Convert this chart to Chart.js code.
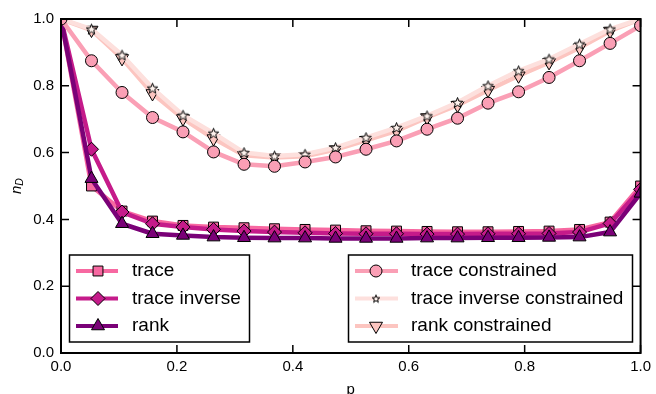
<!DOCTYPE html>
<html>
<head>
<meta charset="utf-8">
<script src="https://cdn.jsdelivr.net/npm/chart.js@4.4.1/dist/chart.umd.min.js"></script>
<style>
  html, body { margin: 0; padding: 0; background: #fff; }
  #wrap { width: 656px; height: 394px; position: relative; }
</style>
</head>
<body>
<div id="wrap"><canvas id="chart"></canvas></div>
<script>
// p values (x axis)
const pValues = [0, 0.0526, 0.1053, 0.1579, 0.2105, 0.2632, 0.3158, 0.3684, 0.4211, 0.4737,
                 0.5263, 0.5789, 0.6316, 0.6842, 0.7368, 0.7895, 0.8421, 0.8947, 0.9474, 1.0];

// n_D series
const traceVals    = [1.0, 0.500, 0.425, 0.395, 0.382, 0.377, 0.375, 0.372, 0.370, 0.368,
                      0.366, 0.365, 0.364, 0.363, 0.363, 0.364, 0.365, 0.370, 0.392, 0.500];
const traceInvVals = [1.0, 0.610, 0.422, 0.387, 0.377, 0.370, 0.365, 0.362, 0.360, 0.358,
                      0.357, 0.357, 0.356, 0.356, 0.357, 0.357, 0.358, 0.362, 0.388, 0.490];
const rankVals     = [1.0, 0.522, 0.387, 0.357, 0.352, 0.347, 0.345, 0.344, 0.344, 0.343,
                      0.343, 0.343, 0.344, 0.344, 0.345, 0.345, 0.346, 0.347, 0.362, 0.478];
const traceConVals = [1.0, 0.875, 0.780, 0.705, 0.662, 0.602, 0.565, 0.559, 0.572, 0.587,
                      0.610, 0.635, 0.670, 0.703, 0.748, 0.782, 0.825, 0.875, 0.927, 0.980];
const traceInvConVals = [1.0, 0.970, 0.892, 0.793, 0.712, 0.658, 0.600, 0.590, 0.595, 0.615,
                         0.645, 0.675, 0.710, 0.750, 0.800, 0.845, 0.880, 0.925, 0.970, 1.0];
const rankConVals  = [1.0, 0.967, 0.882, 0.777, 0.702, 0.642, 0.592, 0.585, 0.589, 0.609,
                      0.637, 0.665, 0.705, 0.742, 0.787, 0.830, 0.870, 0.914, 0.964, 1.0];

const seriesLabels = ['trace', 'trace inverse', 'rank',
                      'trace constrained', 'trace inverse constrained', 'rank constrained'];
const xTicks = [0, 0.2, 0.4, 0.6, 0.8, 1.0];
const yTicks = [0, 0.2, 0.4, 0.6, 0.8, 1.0];

const FONT = '"Liberation Sans", Arial, Helvetica, sans-serif';

function makeStar(size, fill) {
    const c = document.createElement('canvas');
    c.width = size; c.height = size;
    const g = c.getContext('2d');
    const cx = size / 2, cy = size / 2 + 0.5;
    const R = size / 2 - 1, r = R * 0.42;
    g.beginPath();
    for (let k = 0; k < 10; k++) {
        const a = -Math.PI / 2 + k * Math.PI / 5;
        const rr = k % 2 ? r : R;
        g.lineTo(cx + rr * Math.cos(a), cy + rr * Math.sin(a));
    }
    g.closePath();
    g.fillStyle = fill;
    g.fill();
    g.lineWidth = 1;
    g.strokeStyle = '#000';
    g.stroke();
    return c;
}

const starImg = makeStar(13, '#fff3ee');
const starImgSmall = makeStar(10, '#fff3ee');

// drawing layer: higher z is drawn on top
const styles = [
    { line: '#f768a1', fill: '#f768a1', marker: 'rect', r: 7, rot: 0, z: 1 },
    { line: '#c51b8a', fill: '#c51b8a', marker: 'rectRot', r: 7, rot: 0, z: 2 },
    { line: '#7a0177', fill: '#7a0177', marker: 'triangle', r: 7.5, rot: 0, z: 3 },
    { line: '#fa9fb5', fill: '#fa9fb5', marker: 'circle', r: 6, rot: 0, z: 6 },
    { line: '#fde0dd', fill: '#fff3ee', marker: starImg, r: 5, rot: 0, z: 5 },
    { line: '#fcc5c0', fill: '#fcc5c0', marker: 'triangle', r: 7.5, rot: 180, z: 4 }
];
const seriesValues = [traceVals, traceInvVals, rankVals, traceConVals, traceInvConVals, rankConVals];

const datasets = seriesValues.map((vals, i) => ({
    label: seriesLabels[i],
    data: vals.map((v, j) => ({ x: pValues[j], y: v })),
    borderColor: styles[i].line,
    borderWidth: 4.5,
    borderJoinStyle: 'round',
    borderCapStyle: 'round',
    backgroundColor: styles[i].fill,
    pointStyle: styles[i].marker,
    pointRadius: styles[i].r,
    pointRotation: styles[i].rot,
    pointBackgroundColor: styles[i].fill,
    pointBorderColor: '#000',
    pointBorderWidth: 1,
    tension: 0,
    clip: 0,
    order: 10 - styles[i].z
}));

function drawMarker(ctx, st, x, y) {
    ctx.save();
    ctx.fillStyle = st.fill;
    ctx.strokeStyle = '#000';
    ctx.lineWidth = 1;
    const r = st.r;
    if (typeof st.marker !== 'string') {
        ctx.drawImage(starImgSmall, x - 5, y - 5);
        ctx.restore();
        return;
    }
    ctx.beginPath();
    if (st.marker === 'rect') {
        const s = Math.SQRT1_2 * r;
        ctx.rect(x - s, y - s, 2 * s, 2 * s);
    } else if (st.marker === 'rectRot') {
        ctx.moveTo(x, y - r); ctx.lineTo(x + r, y); ctx.lineTo(x, y + r); ctx.lineTo(x - r, y);
        ctx.closePath();
    } else if (st.marker === 'circle') {
        ctx.arc(x, y, r, 0, Math.PI * 2);
    } else if (st.marker === 'triangle') {
        const dir = st.rot === 180 ? -1 : 1;
        for (let k = 0; k < 3; k++) {
            const a = k * 2 * Math.PI / 3;
            ctx.lineTo(x + Math.sin(a) * r, y - dir * Math.cos(a) * r);
        }
        ctx.closePath();
    }
    ctx.fill();
    ctx.stroke();
    ctx.restore();
}

const legendBoxes = [
    { x: 69.5, y: 255, w: 180, h: 87, lineX0: 76, lineX1: 118, markX: 98, textX: 132, items: [0, 1, 2] },
    { x: 348.5, y: 255, w: 284, h: 87, lineX0: 355, lineX1: 398, markX: 376, textX: 411, items: [3, 4, 5] }
];
const legendRows = [271, 298.5, 326];

const framePlugin = {
    id: 'frame',
    afterDraw(chart) {
        const ctx = chart.ctx;
        const a = chart.chartArea;
        const xs = chart.scales.x, ys = chart.scales.y;
        ctx.save();
        ctx.strokeStyle = '#000';
        // inward ticks on all four sides
        ctx.lineWidth = 1.5;
        ctx.beginPath();
        xTicks.forEach(t => {
            const px = xs.getPixelForValue(t);
            ctx.moveTo(px, a.bottom); ctx.lineTo(px, a.bottom - 8);
            ctx.moveTo(px, a.top); ctx.lineTo(px, a.top + 8);
        });
        yTicks.forEach(t => {
            const py = ys.getPixelForValue(t);
            ctx.moveTo(a.left, py); ctx.lineTo(a.left + 8, py);
            ctx.moveTo(a.right, py); ctx.lineTo(a.right - 8, py);
        });
        ctx.stroke();
        ctx.lineWidth = 2;
        ctx.strokeRect(a.left, a.top, a.right - a.left, a.bottom - a.top);

        // legends
        legendBoxes.forEach(b => {
            ctx.fillStyle = '#fff';
            ctx.fillRect(b.x, b.y, b.w, b.h);
            ctx.lineWidth = 1.5;
            ctx.strokeStyle = '#000';
            ctx.strokeRect(b.x, b.y, b.w, b.h);
            b.items.forEach((idx, row) => {
                const y = legendRows[row];
                ctx.strokeStyle = styles[idx].line;
                ctx.lineWidth = 4;
                ctx.beginPath();
                ctx.moveTo(b.lineX0, y); ctx.lineTo(b.lineX1, y);
                ctx.stroke();
                drawMarker(ctx, styles[idx], b.markX, y);
                ctx.fillStyle = '#000';
                ctx.font = '19px ' + FONT;
                ctx.textBaseline = 'middle';
                ctx.textAlign = 'left';
                ctx.fillText(seriesLabels[idx], b.textX, y);
            });
        });

        // axis titles
        ctx.fillStyle = '#000';
        ctx.textAlign = 'center';
        ctx.textBaseline = 'alphabetic';
        ctx.font = '15px ' + FONT;
        ctx.fillText('p', (a.left + a.right) / 2, 394);

        ctx.translate(20.5, 194);
        ctx.rotate(-Math.PI / 2);
        ctx.textAlign = 'left';
        ctx.font = 'italic 15px ' + FONT;
        ctx.fillText('n', 0, 0);
        const nw = ctx.measureText('n').width;
        ctx.font = 'italic 10.5px ' + FONT;
        ctx.fillText('D', nw, 2.5);
        ctx.restore();
    }
};

new Chart(document.getElementById('chart'), {
    type: 'line',
    data: { datasets: datasets },
    options: {
        responsive: true,
        maintainAspectRatio: false,
        animation: false,
        layout: { padding: { top: 19, right: 14, left: 0, bottom: 0 } },
        plugins: {
            legend: { display: false },
            tooltip: { enabled: false }
        },
        scales: {
            x: {
                type: 'linear',
                min: 0, max: 1,
                afterFit: s => { s.height = 41; },
                grid: { display: false, drawTicks: false },
                border: { display: false },
                ticks: {
                    stepSize: 0.2,
                    autoSkip: false,
                    maxRotation: 0,
                    padding: 5,
                    color: '#000',
                    font: { size: 15, family: FONT },
                    callback: v => v.toFixed(1)
                }
            },
            y: {
                min: 0, max: 1,
                afterFit: s => { s.width = 61; },
                grid: { display: false, drawTicks: false },
                border: { display: false },
                ticks: {
                    stepSize: 0.2,
                    padding: 7,
                    color: '#000',
                    font: { size: 15, family: FONT },
                    callback: v => v.toFixed(1)
                }
            }
        }
    },
    plugins: [framePlugin]
});
</script>
</body>
</html>
